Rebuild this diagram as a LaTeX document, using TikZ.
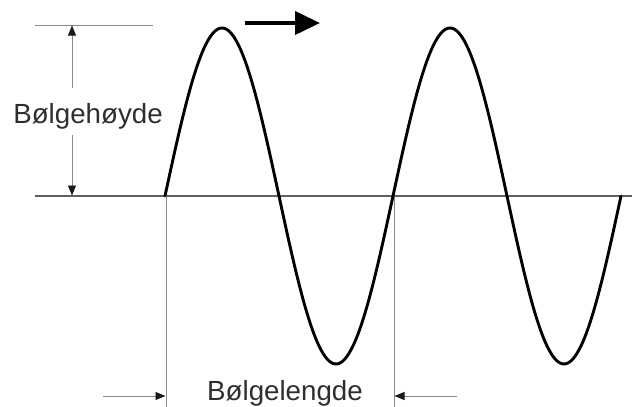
\documentclass[tikz,border=0pt]{standalone}
\usepackage{fontspec}
\setmainfont{Liberation Sans}
\usetikzlibrary{arrows.meta}
\definecolor{thin}{HTML}{8A8A8A}
\definecolor{axiscol}{HTML}{606060}
\definecolor{txt}{HTML}{2E2E2E}
\definecolor{tipcol}{HTML}{1A1A1A}
\begin{document}
\begin{tikzpicture}[x=1pt,y=1pt,
  guide/.style={draw=thin, line width=0.9pt},
  axisline/.style={draw=axiscol, line width=1.3pt},
  dimarrow/.style={guide, -{Triangle[length=10pt,width=8pt,color=tipcol]}},
  wave/.style={draw=black, line width=2.9pt, line cap=round},
  label/.style={text=txt, font=\fontsize{27.7}{30}\selectfont, inner sep=0pt},
  bigarrow/.style={draw=black, line width=4pt, -{Triangle[length=25pt,width=23pt]}}]
\useasboundingbox (0,0) rectangle (635,-407);
% reference lines
\coordinate (axL) at (35,-196);
\coordinate (axR) at (632,-196);
\coordinate (topL) at (35,-25);
\coordinate (topR) at (153,-25);
\draw[axisline] (axL) -- (axR);
\draw[guide] (topL) -- (topR);
% wave height
\node[label, anchor=base] (hlab) at (88,-123) {Bølgehøyde};
\coordinate (hTop) at (72,-25.5);
\coordinate (hUp) at (72,-88);
\coordinate (hDn) at (72,-135);
\coordinate (hBot) at (72,-195.5);
\draw[dimarrow] (hUp) -- (hTop);
\draw[dimarrow] (hDn) -- (hBot);
% wavelength
\coordinate (w1t) at (166,-196);
\coordinate (w1b) at (166,-407);
\coordinate (w2t) at (394,-196);
\coordinate (w2b) at (394,-407);
\draw[guide] (w1t) -- (w1b);
\draw[guide] (w2t) -- (w2b);
\coordinate (la) at (103,-396);
\coordinate (lb) at (165.5,-396);
\coordinate (ra) at (457,-396);
\coordinate (rb) at (394.5,-396);
\draw[dimarrow] (la) -- (lb);
\draw[dimarrow] (ra) -- (rb);
\node[label, anchor=base] (llab) at (285,-400.5) {Bølgelengde};
% wave
\draw[wave] plot[domain=0:456, samples=240, smooth] ({\x+165}, {-196+168*sin(\x/228*360)});
% direction arrow
\coordinate (da) at (245,-23);
\coordinate (db) at (320,-23);
\draw[bigarrow] (da) -- (db);
\end{tikzpicture}
\end{document}
